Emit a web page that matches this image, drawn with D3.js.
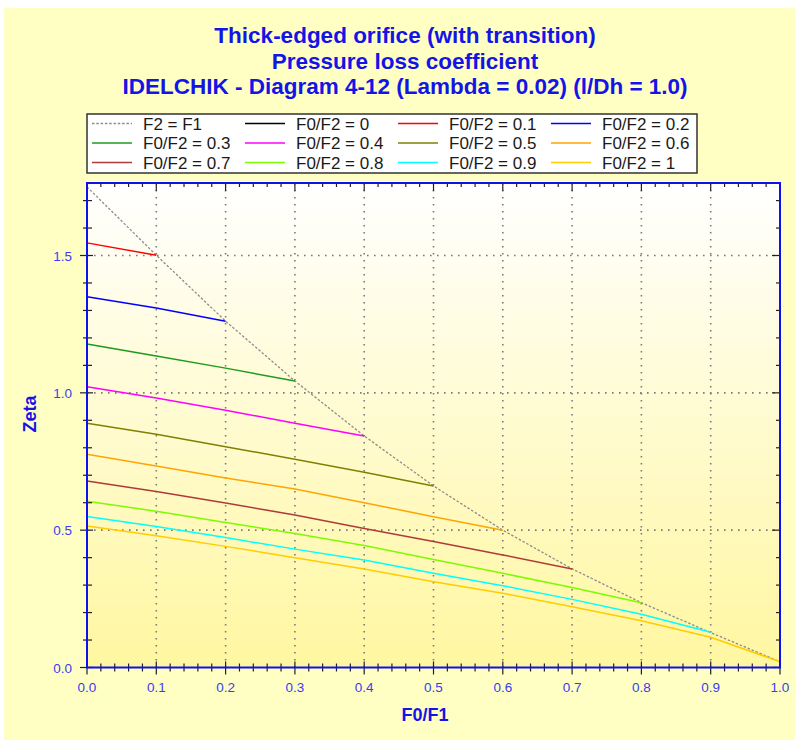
<!DOCTYPE html>
<html><head><meta charset="utf-8">
<script src="https://cdn.jsdelivr.net/npm/d3@7"></script>
<style>html,body{margin:0;padding:0;background:#fff;}svg{display:block;}</style>
</head><body>
<svg id="chart" width="795" height="740"></svg>
<script>
// ---- data ----
const titleLines = ["Thick-edged orifice (with transition)", "Pressure loss coefficient", "IDELCHIK - Diagram 4-12 (Lambda = 0.02) (l/Dh = 1.0)"];
const xLabel = "F0/F1";
const yLabel = "Zeta";
const xTickValues = [0, 0.1, 0.2, 0.3, 0.4, 0.5, 0.6, 0.7, 0.8, 0.9, 1.0];
const yTickValues = [0, 0.5, 1.0, 1.5];
const xs = [0, 0.1, 0.2, 0.3, 0.4, 0.5, 0.6, 0.7, 0.8, 0.9, 1.0];
const seriesNames = ["F2 = F1", "F0/F2 = 0", "F0/F2 = 0.1", "F0/F2 = 0.2", "F0/F2 = 0.3", "F0/F2 = 0.4", "F0/F2 = 0.5", "F0/F2 = 0.6", "F0/F2 = 0.7", "F0/F2 = 0.8", "F0/F2 = 0.9", "F0/F2 = 1"];
const seriesColors = ["#8c8c8c", "#000000", "#ff0000", "#0000ff", "#1e9a1e", "#ff00ff", "#808000", "#ffa500", "#b03a3a", "#7cfc00", "#00ffff", "#ffcc00"];
const zF2F1 = [1.75, 1.501, 1.261, 1.043, 0.843, 0.661, 0.500, 0.359, 0.236, 0.127, 0.021];
const z00 = [1.75];
const z01 = [1.546, 1.501];
const z02 = [1.350, 1.309, 1.261];
const z03 = [1.178, 1.134, 1.090, 1.043];
const z04 = [1.022, 0.981, 0.937, 0.889, 0.843];
const z05 = [0.889, 0.849, 0.804, 0.758, 0.711, 0.661];
const z06 = [0.776, 0.734, 0.690, 0.650, 0.600, 0.549, 0.500];
const z07 = [0.679, 0.641, 0.599, 0.555, 0.506, 0.459, 0.410, 0.359];
const z08 = [0.605, 0.569, 0.528, 0.488, 0.444, 0.393, 0.343, 0.291, 0.236];
const z09 = [0.550, 0.513, 0.473, 0.431, 0.391, 0.343, 0.298, 0.248, 0.194, 0.128];
const z10 = [0.515, 0.480, 0.441, 0.400, 0.359, 0.312, 0.270, 0.221, 0.170, 0.110, 0.021];
const seriesValues = [zF2F1, z00, z01, z02, z03, z04, z05, z06, z07, z08, z09, z10];

// ---- layout ----
const svg = d3.select("#chart");
const L = 87, R = 780, T = 183, B = 667.5;
const x = d3.scaleLinear().domain([0, 1]).range([L, R]);
const y = d3.scaleLinear().domain([0, 1.764]).range([B, T]);

const defs = svg.append("defs");
const grad = defs.append("linearGradient").attr("id", "pg").attr("x1", 0).attr("y1", 0).attr("x2", 0).attr("y2", 1);
grad.append("stop").attr("offset", "0%").attr("stop-color", "#ffffff");
grad.append("stop").attr("offset", "100%").attr("stop-color", "#fff7a0");

svg.append("rect").attr("x", 4).attr("y", 8).attr("width", 791).attr("height", 732).attr("fill", "#ffffc4");
svg.append("rect").attr("x", L).attr("y", T).attr("width", R - L).attr("height", B - T).attr("fill", "url(#pg)");

// title
svg.append("g").selectAll("text").data(titleLines).join("text")
  .attr("x", 405).attr("y", (d, i) => 43 + i * 25.5)
  .attr("text-anchor", "middle")
  .attr("font-family", "Liberation Sans, Arial, sans-serif")
  .attr("font-weight", "bold").attr("font-size", "22.5px")
  .attr("fill", "#1414e6").text(d => d);

// grid
const gridX = xTickValues.filter(v => v > 0 && v < 1);
const gridY = yTickValues.filter(v => v > 0);
const grid = svg.append("g").attr("stroke", "#7a7a7a").attr("stroke-width", 1.6).attr("stroke-dasharray", "1.6,5.4");
grid.selectAll("line.gx").data(gridX).join("line").attr("class", "gx")
  .attr("x1", d => x(d)).attr("x2", d => x(d)).attr("y1", B).attr("y2", T);
grid.selectAll("line.gy").data(gridY).join("line").attr("class", "gy")
  .attr("y1", d => y(d)).attr("y2", d => y(d)).attr("x1", L).attr("x2", R);

// series
const line = d3.line().x(d => x(d[0])).y(d => y(d[1]));
const plotG = svg.append("g");
seriesValues.forEach((vals, i) => {
  const pts = vals.map((v, j) => [xs[j], v]);
  if (pts.length < 2) return;
  plotG.append("path").attr("d", line(pts)).attr("fill", "none")
    .attr("stroke", seriesColors[i]).attr("stroke-width", i === 0 ? 1.3 : 1.5)
    .attr("stroke-dasharray", i === 0 ? "2.5,1.8" : null);
});

// ticks
const tg = svg.append("g").attr("stroke", "#202020").attr("stroke-width", 1.2);
const xMinor = d3.range(0, 51).map(i => i / 50);
const yMinor = d3.range(0, 18).map(i => i / 10);
xMinor.forEach(v => {
  const major = Math.abs(v * 10 - Math.round(v * 10)) < 1e-6;
  tg.append("line").attr("x1", x(v)).attr("x2", x(v)).attr("y1", B - (major ? 6 : 4)).attr("y2", B + (major ? 7 : 4));
  tg.append("line").attr("x1", x(v)).attr("x2", x(v)).attr("y1", T).attr("y2", T + (major ? 8 : 4));
});
yMinor.forEach(v => {
  const major = Math.abs(v * 2 - Math.round(v * 2)) < 1e-6;
  tg.append("line").attr("y1", y(v)).attr("y2", y(v)).attr("x1", L - (major ? 7 : 4)).attr("x2", L + (major ? 6 : 5));
  tg.append("line").attr("y1", y(v)).attr("y2", y(v)).attr("x1", R).attr("x2", R - (major ? 8 : 4));
});

// frame
svg.append("rect").attr("x", L).attr("y", T).attr("width", R - L).attr("height", B - T)
  .attr("fill", "none").attr("stroke", "#1010ee").attr("stroke-width", 2);

// tick labels
const fmt = d3.format(".1f");
svg.append("g").selectAll("text").data(xTickValues).join("text")
  .attr("x", d => x(d)).attr("y", 692).attr("text-anchor", "middle")
  .attr("font-family", "Liberation Sans, Arial, sans-serif").attr("font-size", "13.5px")
  .attr("fill", "#3c3cf0").text(d => fmt(d));
svg.append("g").selectAll("text").data(yTickValues).join("text")
  .attr("x", 72).attr("y", d => y(d) + 5).attr("text-anchor", "end")
  .attr("font-family", "Liberation Sans, Arial, sans-serif").attr("font-size", "13.5px")
  .attr("fill", "#3c3cf0").text(d => fmt(d));

// axis titles
svg.append("text").attr("x", 425).attr("y", 721).attr("text-anchor", "middle")
  .attr("font-family", "Liberation Sans, Arial, sans-serif").attr("font-weight", "bold").attr("font-size", "18px")
  .attr("fill", "#1414e6").text(xLabel);
svg.append("text").attr("transform", "translate(36,414) rotate(-90)").attr("text-anchor", "middle")
  .attr("font-family", "Liberation Sans, Arial, sans-serif").attr("font-weight", "bold").attr("font-size", "18px")
  .attr("fill", "#1414e6").text(yLabel);

// legend
const lg = svg.append("g");
lg.append("rect").attr("x", 87).attr("y", 114).attr("width", 610).attr("height", 59)
  .attr("fill", "#ffffff").attr("stroke", "#333333").attr("stroke-width", 1.5);
seriesNames.forEach((name, i) => {
  const c = i % 4, r = Math.floor(i / 4);
  const x1 = 92 + 153 * c, yy = 123.5 + 19.5 * r;
  lg.append("line").attr("x1", x1).attr("x2", x1 + 40).attr("y1", yy).attr("y2", yy)
    .attr("stroke", seriesColors[i]).attr("stroke-width", 1.5)
    .attr("stroke-dasharray", i === 0 ? "2.5,1.8" : null);
  lg.append("text").attr("x", x1 + 51).attr("y", yy + 6)
    .attr("font-family", "Liberation Sans, Arial, sans-serif").attr("font-size", "17px")
    .attr("fill", "#1a1a1a").text(name);
});
</script>
</body></html>
